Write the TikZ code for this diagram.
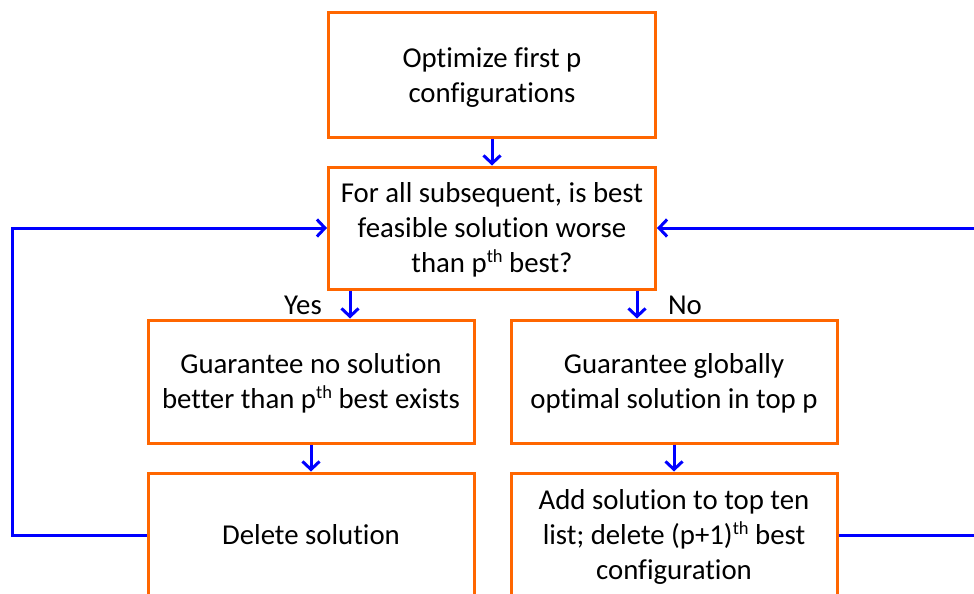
\documentclass[tikz,border=0pt]{standalone}
\usepackage{fontspec}
\setmainfont{Carlito}[Ligatures={NoCommon}]
\usetikzlibrary{arrows.meta}
\definecolor{boxorange}{RGB}{255,102,0}
\definecolor{flowblue}{RGB}{0,0,255}
% superscript in the style of the slide text
\newcommand\supth[1]{\raisebox{0.36em}{\fontsize{18.5pt}{18.5pt}\selectfont #1}}
% fixed line metrics, so every line sits the same way in its box
\newcommand\ls{\rule[-8pt]{0pt}{35pt}}
\begin{document}
\begin{tikzpicture}[x=1pt,y=-1pt,
  box/.style={draw=boxorange, line width=3pt, rectangle, inner sep=0pt,
    align=center, font=\fontsize{28.8pt}{35pt}\selectfont},
  flow/.style={draw=flowblue, line width=3pt,
    -{Straight Barb[length=8pt,width=17pt]}},
  lbl/.style={inner sep=0pt, font=\fontsize{28.8pt}{35pt}\selectfont}]
\useasboundingbox (0,0) rectangle (974,594);
\clip (0,0) rectangle (974,594);
\fill[white] (0,0) rectangle (974,594);

% process boxes
\node[box, minimum width=327pt, minimum height=124pt] (start) at (492,75)
  {\ls Optimize first p\\\ls configurations};
\node[box, minimum width=327pt, minimum height=122pt] (test) at (492,228)
  {\ls For all subsequent, is best\\\ls feasible solution worse\\\ls than p\supth{th} best?};
\node[box, minimum width=326pt, minimum height=123pt] (yes) at (311,381.5)
  {\ls Guarantee no solution\\\ls better than p\supth{th} best exists};
\node[box, minimum width=326pt, minimum height=123pt] (no) at (674,381.5)
  {\ls Guarantee globally\\\ls optimal solution in top p};
\node[box, minimum width=326pt, minimum height=124pt] (del) at (311,535)
  {\ls Delete solution};
\node[box, minimum width=326pt, minimum height=124pt] (add) at (674,535)
  {\ls Add solution to top ten\\\ls list; delete (p+1)\supth{th} best\\\ls configuration};

% branch labels
\node[lbl] (ylab) at (303,305) {Yes};
\node[lbl] (nlab) at (685,305) {No};

% branch columns and loop returns
\coordinate (yx) at (350,0);
\coordinate (nx) at (637,0);
\coordinate (lx) at (12,0);
\coordinate (rx) at (985,0);

% connectors
\draw[flow] (start) -- (test);
\draw[flow] (test.south -| yx) -- (yes.north -| yx);
\draw[flow] (test.south -| nx) -- (no.north -| nx);
\draw[flow] (yes) -- (del);
\draw[flow] (no) -- (add);
\draw[flow] (del.west) -- (del.west -| lx) -- (test.west -| lx) -- (test.west);
\draw[flow] (add.east) -- (add.east -| rx) -- (test.east -| rx) -- (test.east);
\end{tikzpicture}
\end{document}
